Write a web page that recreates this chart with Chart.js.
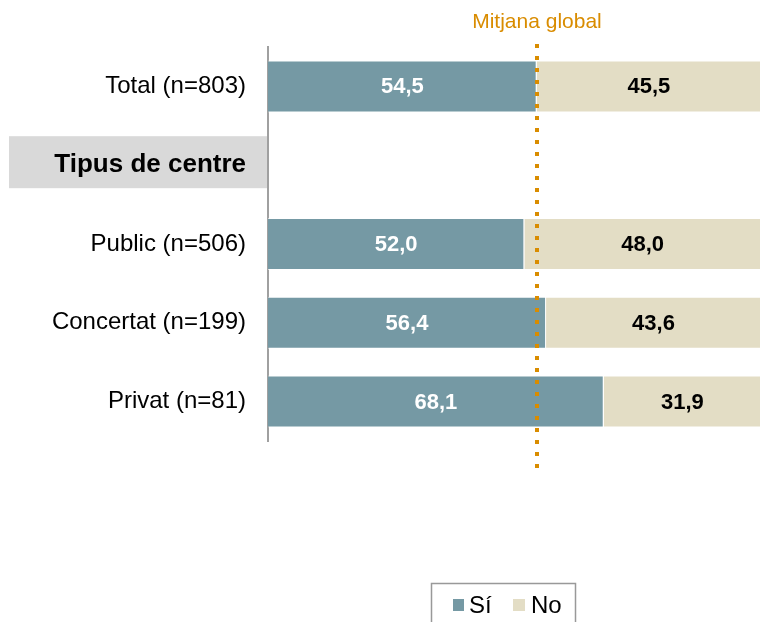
<!DOCTYPE html>
<html>
<head>
<meta charset="utf-8">
<script src="https://cdn.jsdelivr.net/npm/chart.js@4/dist/chart.umd.min.js"></script>
<style>
  body { margin: 0; background: #fff; }
  canvas { display: block; }
</style>
</head>
<body>
<canvas id="chart" width="761" height="622"></canvas>
<script>
// categories (index 1 is the section header, no bar)
const categories = ['Total (n=803)', 'Tipus de centre', 'Public (n=506)', 'Concertat (n=199)', 'Privat (n=81)'];
const siValues = [54.5, null, 52.0, 56.4, 68.1];
const noValues = [45.5, null, 48.0, 43.6, 31.9];
const seriesNames = ['Sí', 'No'];
const globalMean = 54.5;
const meanLabel = 'Mitjana global';

const SI_COLOR = '#7599a4';
const NO_COLOR = '#e3ddc5';
const MEAN_COLOR = '#d98c00';
const FONT = "'Liberation Sans', Arial, sans-serif";

const fmt = v => v.toFixed(1).replace('.', ',');

// grey band behind the section header label
const headerBand = {
    id: 'headerBand',
    beforeDraw(chart) {
        const { ctx, chartArea, scales } = chart;
        const y = scales.y.getPixelForValue(1);
        ctx.save();
        ctx.fillStyle = '#d9d9d9';
        ctx.fillRect(9, y - 29, chartArea.left - 9, 52);
        ctx.restore();
    }
};

// value labels inside the segments
const valueLabels = {
    id: 'valueLabels',
    afterDatasetsDraw(chart) {
        const { ctx } = chart;
        ctx.save();
        ctx.font = 'bold 22px ' + FONT;
        ctx.textAlign = 'center';
        ctx.textBaseline = 'middle';
        chart.data.datasets.forEach((ds, di) => {
            const meta = chart.getDatasetMeta(di);
            meta.data.forEach((bar, i) => {
                const v = ds.data[i];
                if (v == null) return;
                const cx = (bar.x + bar.base) / 2;
                ctx.fillStyle = di === 0 ? '#ffffff' : '#000000';
                ctx.fillText(fmt(v), cx, bar.y + 1);
            });
        });
        ctx.restore();
    }
};

// dotted global mean line, its caption and the boxed legend
const meanLine = {
    id: 'meanLine',
    afterDraw(chart) {
        const { ctx, scales } = chart;
        const x = Math.round(scales.x.getPixelForValue(globalMean));
        ctx.save();
        ctx.strokeStyle = MEAN_COLOR;
        ctx.lineWidth = 4;
        ctx.setLineDash([4, 8]);
        ctx.beginPath();
        ctx.moveTo(x, 44);
        ctx.lineTo(x, 468);
        ctx.stroke();
        ctx.setLineDash([]);

        ctx.fillStyle = MEAN_COLOR;
        ctx.font = '21px ' + FONT;
        ctx.textAlign = 'center';
        ctx.textBaseline = 'middle';
        ctx.fillText(meanLabel, x, 22);

        // legend
        ctx.strokeStyle = '#999999';
        ctx.lineWidth = 1.5;
        ctx.strokeRect(431.5, 583.5, 144, 50);
        ctx.font = '24px ' + FONT;
        ctx.textAlign = 'left';
        ctx.fillStyle = SI_COLOR;
        ctx.fillRect(453, 599, 11, 12);
        ctx.fillStyle = '#000';
        ctx.fillText(seriesNames[0], 469, 606);
        ctx.fillStyle = NO_COLOR;
        ctx.fillRect(513, 599, 12, 12);
        ctx.fillStyle = '#000';
        ctx.fillText(seriesNames[1], 531, 606);
        ctx.restore();
    }
};

new Chart(document.getElementById('chart'), {
    type: 'bar',
    data: {
        labels: categories,
        datasets: [
            { label: seriesNames[0], data: siValues, backgroundColor: SI_COLOR, borderColor: 'rgba(255,255,255,0.6)', borderWidth: 1 },
            { label: seriesNames[1], data: noValues, backgroundColor: NO_COLOR, borderColor: 'rgba(255,255,255,0.6)', borderWidth: 1 }
        ]
    },
    options: {
        indexAxis: 'y',
        responsive: false,
        animation: false,
        layout: { padding: { top: 47, bottom: 181, left: 0, right: 0 } },
        datasets: { bar: { categoryPercentage: 1, barPercentage: 0.66 } },
        plugins: {
            legend: { display: false },
            tooltip: { enabled: false }
        },
        scales: {
            x: {
                stacked: true,
                min: 0,
                max: 100,
                display: false
            },
            y: {
                stacked: true,
                grid: { display: false, drawTicks: false },
                border: { color: '#a0a0a0', width: 2 },
                ticks: {
                    color: '#000',
                    padding: 22,
                    font: c => c.index === 1
                        ? { family: FONT, size: 26, weight: 'bold' }
                        : { family: FONT, size: 24 }
                },
                afterFit(scale) { scale.width = 268; }
            }
        }
    },
    plugins: [headerBand, valueLabels, meanLine]
});
</script>
</body>
</html>
